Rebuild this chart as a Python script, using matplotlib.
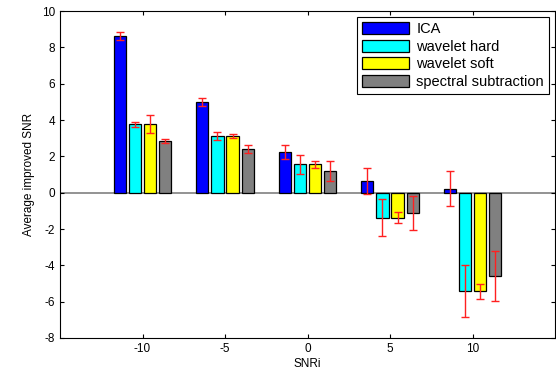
import numpy as np
import matplotlib
matplotlib.use('Agg')
import matplotlib.pyplot as plt

plt.rcParams['font.family'] = ['Liberation Sans', 'DejaVu Sans']
plt.rcParams['axes.unicode_minus'] = False

snri = [-10, -5, 0, 5, 10]
methods = ['ICA', 'wavelet hard', 'wavelet soft', 'spectral subtraction']
colors = ['#0000ff', '#00ffff', '#ffff00', '#808080']

ica       = [8.60, 4.97, 2.24, 0.64, 0.22]
wav_hard  = [3.76, 3.12, 1.56, -1.37, -5.42]
wav_soft  = [3.76, 3.12, 1.56, -1.37, -5.42]
spec_sub  = [2.82, 2.40, 1.19, -1.12, -4.58]

ica_err   = [0.22, 0.22, 0.37, 0.72, 0.98]
hard_err  = [0.15, 0.22, 0.52, 1.00, 1.45]
soft_err  = [0.50, 0.11, 0.18, 0.31, 0.41]
spec_err  = [0.11, 0.24, 0.55, 0.95, 1.39]

values = [ica, wav_hard, wav_soft, spec_sub]
errors = [ica_err, hard_err, soft_err, spec_err]

fig = plt.figure(figsize=(5.56, 3.76), dpi=100)
ax = fig.add_axes([60 / 556, 1 - 338 / 376, 495 / 556, 327 / 376])

x = np.array(snri, dtype=float)
offsets = [-1.38, -0.46, 0.46, 1.38]
width = 0.75
for vals, errs, col, off, lab in zip(values, errors, colors, offsets, methods):
    ax.bar(x + off, vals, width, color=col, edgecolor='black', linewidth=0.9,
           label=lab, zorder=2)
    ax.errorbar(x + off, vals, yerr=errs, fmt='none', ecolor='#ff2020',
                elinewidth=1.0, capsize=3, capthick=1.0, zorder=3)

ax.axhline(0, color='#808080', linewidth=1.2, zorder=1)

ax.set_xlim(-15, 15)
ax.set_ylim(-8, 10)
ax.set_xticks(snri)
ax.set_yticks(np.arange(-8, 11, 2))
ax.tick_params(direction='in', top=True, right=True, labelsize=8.5, length=3)
for s in ax.spines.values():
    s.set_linewidth(0.8)

ax.set_xlabel('SNRi', fontsize=8.5, labelpad=2)
ax.set_ylabel('Average improved SNR', fontsize=8.5, labelpad=5)

leg = ax.legend(loc='upper right', fontsize=10.5, fancybox=False, framealpha=1,
                edgecolor='black', handlelength=3.2, handleheight=0.9,
                borderaxespad=0.4, labelspacing=0.25, handletextpad=0.5,
                borderpad=0.35)
leg.get_frame().set_linewidth(0.8)

fig.savefig('out.png', dpi=100)
